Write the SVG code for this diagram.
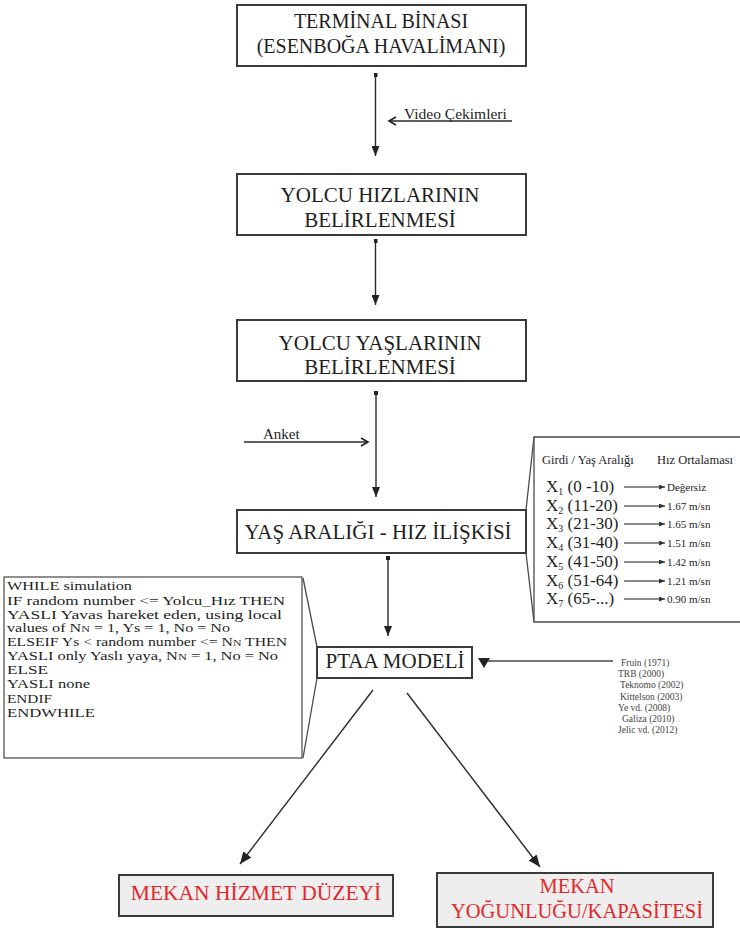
<svg xmlns="http://www.w3.org/2000/svg" width="740" height="928" viewBox="0 0 740 928">
<style>
  text { font-family: "Liberation Serif", "Times New Roman", serif; fill: #1e1e1e; }
  .box { fill: #ffffff; stroke: #3a3a3a; stroke-width: 2; }
  .gbox { fill: #eeeeee; stroke: #3a3a3a; stroke-width: 2; }
  .thin { fill: none; stroke: #4a4a4a; stroke-width: 1.3; }
  .ln { fill: none; stroke: #2a2a2a; stroke-width: 1.4; }
  .tl { fill: none; stroke: #666; stroke-width: 1.6; }
  .big { font-size: 21px; text-anchor: middle; }
  .red { fill: #e3262b; text-anchor: middle; }
  .code { font-size: 12px; }
  .row { font-size: 17px; }
  .val { font-size: 11px; }
  .cit { font-size: 9.5px; fill: #444; }
</style>
<defs>
  <marker id="arr" viewBox="0 0 10 8" refX="10" refY="4" markerWidth="10" markerHeight="8" markerUnits="userSpaceOnUse" orient="auto">
    <path d="M0,0 L10,4 L0,8 Z" fill="#222"/>
  </marker>
  <marker id="arrL" viewBox="0 0 12 10" refX="12" refY="5" markerWidth="12" markerHeight="10" markerUnits="userSpaceOnUse" orient="auto">
    <path d="M0,0 L12,5 L0,10 Z" fill="#222"/>
  </marker>
  <marker id="open" viewBox="-1 -1 10 10" refX="7" refY="4" markerWidth="10" markerHeight="10" markerUnits="userSpaceOnUse" orient="auto">
    <path d="M0,0 L7,4 L0,8" fill="none" stroke="#222" stroke-width="1.6"/>
  </marker>
  <marker id="dot" viewBox="0 0 4 4" refX="2" refY="2" markerWidth="4" markerHeight="4" markerUnits="userSpaceOnUse" orient="auto">
    <rect x="0" y="0" width="4" height="4" fill="#222"/>
  </marker>
  <marker id="sm" viewBox="0 0 6 5" refX="6" refY="2.5" markerWidth="6" markerHeight="5" markerUnits="userSpaceOnUse" orient="auto">
    <path d="M0,0 L6,2.5 L0,5 Z" fill="#333"/>
  </marker>
</defs>
<rect width="740" height="928" fill="#ffffff"/>

<g id="connectors">
  <line class="ln" x1="375.5" y1="75" x2="375.5" y2="156" marker-start="url(#dot)" marker-end="url(#arr)"/>
  <line class="ln" x1="512" y1="121" x2="389" y2="121" marker-end="url(#open)"/>
  <line class="ln" x1="375.5" y1="241" x2="375.5" y2="305" marker-start="url(#dot)" marker-end="url(#arr)"/>
  <line class="ln" x1="376" y1="393" x2="376" y2="497" marker-start="url(#dot)" marker-end="url(#arr)"/>
  <line class="ln" x1="244" y1="442" x2="368" y2="442" marker-end="url(#open)"/>
  <line class="ln" x1="388" y1="558" x2="388" y2="636" marker-start="url(#dot)" marker-end="url(#arr)"/>
  <line class="thin" x1="613" y1="661" x2="488" y2="661"/>
  <path d="M478,658 L490,658 L484,668 Z" fill="#222"/>
  <line class="ln" x1="373" y1="690" x2="240" y2="864" marker-end="url(#arrL)"/>
  <line class="ln" x1="407" y1="693" x2="540" y2="867" marker-end="url(#arrL)"/>
  <path class="thin" d="M526,510 L534,437 M526,553 L534,622"/>
  <path class="thin" d="M303,578 L317,647 M317,678 L303,758"/>
</g>

<g id="node-terminal">
  <rect class="box" x="237" y="5" width="289" height="61"/>
  <text x="381" y="28" text-anchor="middle" font-size="20">TERMİNAL BİNASI</text>
  <text x="381" y="53" text-anchor="middle" font-size="20">(ESENBOĞA HAVALİMANI)</text>
</g>

<g id="label-video">
  <text x="404" y="119" font-size="15.5">Video Çekimleri</text>
</g>

<g id="node-hiz">
  <rect class="box" x="237" y="174" width="289" height="61"/>
  <text class="big" x="380" y="202">YOLCU HIZLARININ</text>
  <text class="big" x="380" y="227">BELİRLENMESİ</text>
</g>

<g id="node-yas">
  <rect class="box" x="237" y="320" width="289" height="61"/>
  <text class="big" x="380" y="350">YOLCU YAŞLARININ</text>
  <text class="big" x="380" y="374">BELİRLENMESİ</text>
</g>

<g id="label-anket">
  <text x="263" y="439" font-size="15">Anket</text>
</g>

<g id="node-iliski">
  <rect class="box" x="237" y="510" width="289" height="43"/>
  <text class="big" x="378" y="539">YAŞ ARALIĞI - HIZ İLİŞKİSİ</text>
</g>

<g id="node-table">
  <path d="M740,437 H534 V622 H740" fill="#ffffff" stroke="#4a4a4a" stroke-width="1.3"/>
  <text x="542" y="464" font-size="12.5">Girdi / Yaş Aralığı</text>
  <text x="657" y="464" font-size="12.5">Hız Ortalaması</text>
  <text class="row" x="546" y="492">X<tspan font-size="10" dy="3">1</tspan><tspan dy="-3"> (0 -10)</tspan></text>
  <text class="row" x="546" y="511">X<tspan font-size="10" dy="3">2</tspan><tspan dy="-3"> (11-20)</tspan></text>
  <text class="row" x="546" y="529">X<tspan font-size="10" dy="3">3</tspan><tspan dy="-3"> (21-30)</tspan></text>
  <text class="row" x="546" y="548">X<tspan font-size="10" dy="3">4</tspan><tspan dy="-3"> (31-40)</tspan></text>
  <text class="row" x="546" y="567">X<tspan font-size="10" dy="3">5</tspan><tspan dy="-3"> (41-50)</tspan></text>
  <text class="row" x="546" y="586">X<tspan font-size="10" dy="3">6</tspan><tspan dy="-3"> (51-64)</tspan></text>
  <text class="row" x="546" y="604">X<tspan font-size="10" dy="3">7</tspan><tspan dy="-3"> (65-...)</tspan></text>
  <g>
    <line class="tl" x1="624" y1="487" x2="665" y2="487" marker-end="url(#sm)"/>
    <line class="tl" x1="624" y1="506" x2="665" y2="506" marker-end="url(#sm)"/>
    <line class="tl" x1="624" y1="524" x2="665" y2="524" marker-end="url(#sm)"/>
    <line class="tl" x1="624" y1="543" x2="665" y2="543" marker-end="url(#sm)"/>
    <line class="tl" x1="624" y1="562" x2="665" y2="562" marker-end="url(#sm)"/>
    <line class="tl" x1="624" y1="581" x2="665" y2="581" marker-end="url(#sm)"/>
    <line class="tl" x1="624" y1="599" x2="665" y2="599" marker-end="url(#sm)"/>
  </g>
  <text class="val" x="667" y="491">Değersiz</text>
  <text class="val" x="667" y="510">1.67 m/sn</text>
  <text class="val" x="667" y="528">1.65 m/sn</text>
  <text class="val" x="667" y="547">1.51 m/sn</text>
  <text class="val" x="667" y="566">1.42 m/sn</text>
  <text class="val" x="667" y="585">1.21 m/sn</text>
  <text class="val" x="667" y="603">0.90 m/sn</text>
</g>

<g id="node-code">
  <rect x="4" y="577" width="298" height="181" fill="#ffffff" stroke="#555" stroke-width="1.3"/>
  <text class="code" x="7" y="590" textLength="125" lengthAdjust="spacingAndGlyphs">WHILE simulation</text>
  <text class="code" x="7" y="605" textLength="278" lengthAdjust="spacingAndGlyphs">IF random number &lt;= Yolcu_Hız THEN</text>
  <text class="code" x="7" y="619" textLength="275" lengthAdjust="spacingAndGlyphs">YASLI  Yavas hareket eden, using local</text>
  <text class="code" x="7" y="632" textLength="223" lengthAdjust="spacingAndGlyphs">values of N<tspan font-size="9">N</tspan> = 1, Ys = 1, No = No</text>
  <text class="code" x="7" y="646" textLength="280" lengthAdjust="spacingAndGlyphs">ELSEIF Ys &lt; random number &lt;= N<tspan font-size="9">N</tspan> THEN</text>
  <text class="code" x="7" y="660" textLength="271" lengthAdjust="spacingAndGlyphs">YASLI only Yaslı yaya, N<tspan font-size="9">N</tspan> = 1, No = No</text>
  <text class="code" x="7" y="674" textLength="41" lengthAdjust="spacingAndGlyphs">ELSE</text>
  <text class="code" x="7" y="688" textLength="83" lengthAdjust="spacingAndGlyphs">YASLI none</text>
  <text class="code" x="7" y="703" textLength="45" lengthAdjust="spacingAndGlyphs">ENDIF</text>
  <text class="code" x="7" y="717" textLength="88" lengthAdjust="spacingAndGlyphs">ENDWHILE</text>
</g>

<g id="node-ptaa">
  <rect class="box" x="317" y="647" width="155" height="31"/>
  <text class="big" x="395" y="668">PTAA MODELİ</text>
</g>

<g id="node-citations">
  <text class="cit" x="621" y="666">Fruin (1971)</text>
  <text class="cit" x="618" y="677">TRB (2000)</text>
  <text class="cit" x="620" y="688">Teknomo (2002)</text>
  <text class="cit" x="620" y="700">Kittelson (2003)</text>
  <text class="cit" x="618" y="711">Ye vd. (2008)</text>
  <text class="cit" x="622" y="722">Galiza (2010)</text>
  <text class="cit" x="618" y="733">Jelic vd. (2012)</text>
</g>

<g id="node-hizmet">
  <rect class="gbox" x="119" y="875" width="274" height="41"/>
  <text class="red" x="256" y="900" font-size="21.5">MEKAN HİZMET DÜZEYİ</text>
</g>

<g id="node-kapasite">
  <rect class="gbox" x="437" y="873" width="276" height="54"/>
  <text class="red" x="577" y="893" font-size="20.5">MEKAN</text>
  <text class="red" x="577" y="918" font-size="20.5">YOĞUNLUĞU/KAPASİTESİ</text>
</g>
</svg>
